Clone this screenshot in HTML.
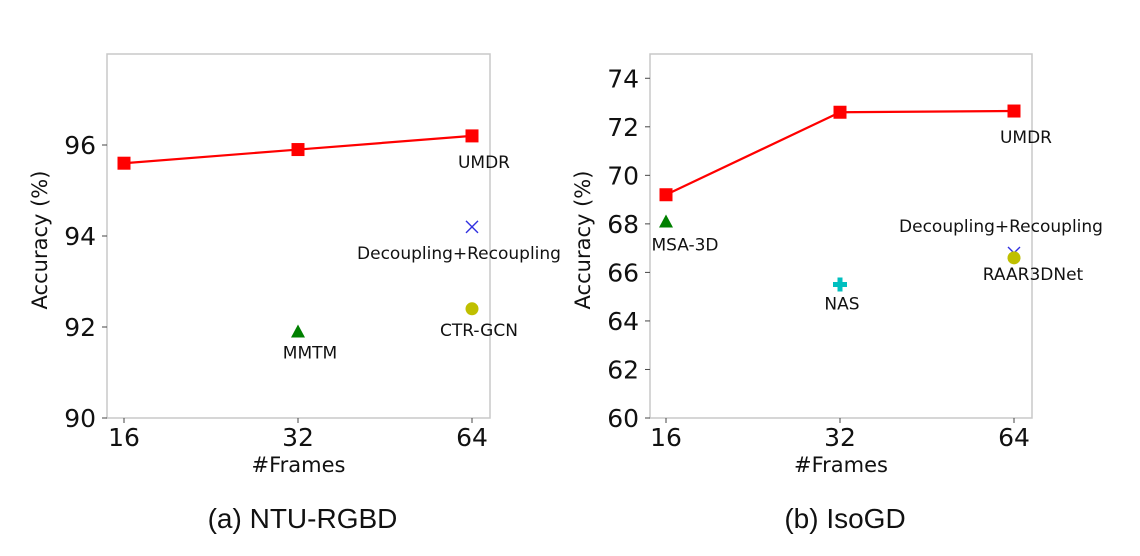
<!DOCTYPE html>
<html><head><meta charset="utf-8"><style>
body{margin:0;background:#fff;}
svg{display:block;font-family:"DejaVu Sans","Liberation Sans",sans-serif;}
</style></head><body>
<svg id="chart" width="1140" height="556" viewBox="0 0 1140 556"></svg>
<script>
const categories = ["16","32","64"];
// Panel (a) NTU-RGBD
const aUmdr = [95.6, 95.9, 96.2];
const aYTicks = [90, 92, 94, 96];
const aPoints = [
  {name:"Decoupling+Recoupling", cat:2, val:94.2, mk:"x", color:"#3030e0"},
  {name:"CTR-GCN", cat:2, val:92.4, mk:"o", color:"#bfbf00"},
  {name:"MMTM", cat:1, val:91.9, mk:"^", color:"#008000"}
];
// Panel (b) IsoGD
const bUmdr = [69.2, 72.6, 72.65];
const bYTicks = [60, 62, 64, 66, 68, 70, 72, 74];
const bPoints = [
  {name:"MSA-3D", cat:0, val:68.1, mk:"^", color:"#008000"},
  {name:"NAS", cat:1, val:65.5, mk:"P", color:"#00bfbf"},
  {name:"Decoupling+Recoupling", cat:2, val:66.8, mk:"x", color:"#3030e0"},
  {name:"RAAR3DNet", cat:2, val:66.6, mk:"o", color:"#bfbf00"}
];
const NS="http://www.w3.org/2000/svg";
const svg=document.getElementById('chart');
function mk(tag,attrs,parent,text){const e=document.createElementNS(NS,tag);for(const k in attrs)e.setAttribute(k,attrs[k]);if(text!==undefined)e.textContent=text;(parent||svg).appendChild(e);return e;}

function panel(cfg){
  const g=mk('g',{});
  
  
  const L=cfg.left,R=cfg.right,T=54,B=418;
  const xs=c=>cfg.x0+c*(cfg.x2-cfg.x0)/2;
  const ys=v=>B-(v-cfg.ymin)/(cfg.ymax-cfg.ymin)*(B-T);
  const box=mk('rect',{x:L,y:T,width:R-L,height:B-T,fill:'none',stroke:'#c8c8c8','stroke-width':1.5},g);
  
  
  cfg.yticks.forEach(v=>{
    mk('line',{x1:L-5,x2:L,y1:ys(v),y2:ys(v),stroke:'#444'},g);
    const t=mk('text',{x:L-11,y:ys(v)+9,'text-anchor':'end','font-size':25,fill:'#111'},g,String(v));
    
    
  });
  categories.forEach((c,i)=>{
    mk('line',{x1:xs(i),x2:xs(i),y1:B,y2:B+5,stroke:'#444'},g);
    const t=mk('text',{x:xs(i),y:B+28,'text-anchor':'middle','font-size':25,fill:'#111'},g,c);
    
    
  });
  const xt=mk('text',{x:(L+R)/2,y:472,'text-anchor':'middle','font-size':21,fill:'#111'},g,'#Frames');
  
  
  const yt=mk('text',{x:0,y:0,'text-anchor':'middle','font-size':21,fill:'#111',transform:`translate(${L-60},${(T+B)/2+4}) rotate(-90)`},g,'Accuracy (%)');
  
  
  const cap=mk('text',{x:(L+R)/2+4,y:528,'text-anchor':'middle','font-size':28,fill:'#111','font-family':'Liberation Sans, sans-serif'},g,cfg.caption);
  
  
  const pts=cfg.umdr.map((v,i)=>xs(i)+','+ys(v)).join(' ');
  const pl=mk('polyline',{points:pts,fill:'none',stroke:'#ff0000','stroke-width':2.2},g);
  
  
  cfg.umdr.forEach((v,i)=>{
    const r=mk('rect',{x:xs(i)-6.5,y:ys(v)-6.5,width:13,height:13,fill:'#ff0000'},g);
    
    
  });
  const ul=mk('text',{x:xs(2)+12,y:ys(cfg.umdr[2])+32,'text-anchor':'middle','font-size':17,fill:'#111'},g,'UMDR');
  
  
  cfg.points.forEach(p=>{
    const x=xs(p.cat),y=ys(p.val);let m;
    if(p.mk==='x'){m=mk('path',{d:`M${x-6},${y-6}L${x+6},${y+6}M${x-6},${y+6}L${x+6},${y-6}`,stroke:p.color,'stroke-width':1.4},g);}
    else if(p.mk==='o'){m=mk('circle',{cx:x,cy:y,r:6.5,fill:p.color},g);}
    else if(p.mk==='^'){m=mk('path',{d:`M${x},${y-7}L${x+7},${y+6}L${x-7},${y+6}Z`,fill:p.color},g);}
    else {m=mk('path',{d:`M${x-2.5},${y-7}h5v4.5h4.5v5h-4.5v4.5h-5v-4.5h-4.5v-5h4.5Z`,fill:p.color},g);}
    
    
    const off=cfg.labelOff[p.name];
    const t=mk('text',{x:x+off[0],y:y+off[1],'text-anchor':'middle','font-size':17,fill:'#111'},g,p.name);
    
    
  });
}
panel({id:'ntu-rgbd',left:107,right:490,x0:124,x2:472,ymin:90,ymax:98,yticks:aYTicks,umdr:aUmdr,points:aPoints,caption:'(a) NTU-RGBD',
  labelOff:{"Decoupling+Recoupling":[-13,32],"CTR-GCN":[7,27],"MMTM":[12,27]}});
panel({id:'isogd',left:650,right:1032,x0:666,x2:1014,ymin:60,ymax:75,yticks:bYTicks,umdr:bUmdr,points:bPoints,caption:'(b) IsoGD',
  labelOff:{"MSA-3D":[19,29],"NAS":[2,25],"Decoupling+Recoupling":[-13,-21],"RAAR3DNet":[19,22]}});
</script>
</body></html>
